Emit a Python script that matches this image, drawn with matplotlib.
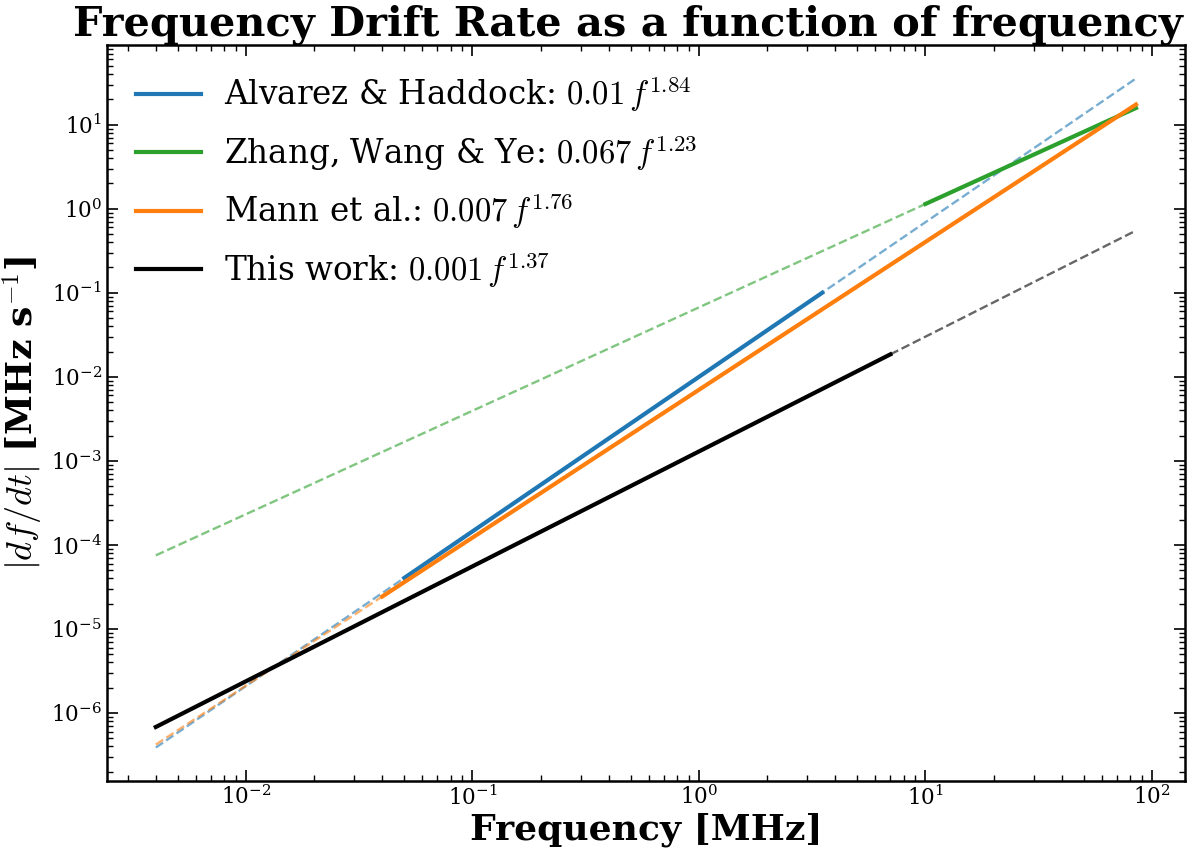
import matplotlib
matplotlib.use("Agg")
import matplotlib.pyplot as plt

plt.rcParams['font.family'] = ['DejaVu Serif']
plt.rcParams['mathtext.fontset'] = 'cm'

# Endpoints of each segment (frequency in MHz, drift rate in MHz/s)
ah_full_x = [0.004, 85.0]
ah_full_y = [3.87e-7, 35.5]
ah_fit_x = [0.05, 3.5]
ah_fit_y = [4.04e-5, 0.100]

zwy_ext_x = [0.004, 10.0]
zwy_ext_y = [7.5e-5, 1.14]
zwy_fit_x = [10.0, 85.0]
zwy_fit_y = [1.14, 15.8]

mann_ext_x = [0.004, 0.04]
mann_ext_y = [4.2e-7, 2.43e-5]
mann_fit_x = [0.04, 85.0]
mann_fit_y = [2.43e-5, 17.4]

tw_fit_x = [0.004, 7.0]
tw_fit_y = [6.8e-7, 0.0185]
tw_ext_x = [7.0, 85.0]
tw_ext_y = [0.0185, 0.55]

labels = [r'Alvarez & Haddock: $0.01\,f^{1.84}$',
          r'Zhang, Wang & Ye: $0.067\,f^{1.23}$',
          r'Mann et al.: $0.007\,f^{1.76}$',
          r'This work: $0.001\,f^{1.37}$']

fig = plt.figure(figsize=(12, 8.56), dpi=100)
ax = fig.add_axes([0.089, 0.0876, 0.8985, 0.8598])

lw_s = 3.0
lw_d = 1.7
ax.plot(ah_full_x, ah_full_y, '--', color='#1f77b4', alpha=0.6, lw=lw_d)
ax.plot(zwy_ext_x, zwy_ext_y, '--', color='#2ca02c', alpha=0.6, lw=lw_d)
ax.plot(mann_ext_x, mann_ext_y, '--', color='#ff7f0e', alpha=0.6, lw=lw_d)
ax.plot(tw_ext_x, tw_ext_y, '--', color='black', alpha=0.6, lw=lw_d)

ax.plot(ah_fit_x, ah_fit_y, '-', color='#1f77b4', lw=lw_s, label=labels[0])
ax.plot(zwy_fit_x, zwy_fit_y, '-', color='#2ca02c', lw=lw_s, label=labels[1])
ax.plot(mann_fit_x, mann_fit_y, '-', color='#ff7f0e', lw=lw_s, label=labels[2])
ax.plot(tw_fit_x, tw_fit_y, '-', color='black', lw=lw_s, label=labels[3])

ax.set_xscale('log')
ax.set_yscale('log')

ax.tick_params(which='both', direction='in', top=True, right=True, labelsize=15.5)
ax.tick_params(which='major', length=8, width=1.2)
ax.tick_params(which='minor', length=4, width=1)
for s in ax.spines.values():
    s.set_linewidth(1.8)

ax.set_title('Frequency Drift Rate as a function of frequency', fontsize=29.8,
             fontweight='bold', pad=6, x=0.483)
ax.set_xlabel('Frequency [MHz]', fontsize=26, fontweight='bold', labelpad=2)
ax.set_ylabel(r'$|df/dt|$ [MHz s$^{-1}$]', fontsize=26, fontweight='bold', labelpad=4)

leg = ax.legend(loc='upper left', frameon=False, fontsize=23.5, handlelength=2.0,
                handletextpad=0.7, labelspacing=0.58, borderaxespad=0.5)

fig.savefig('out.png', dpi=100)
